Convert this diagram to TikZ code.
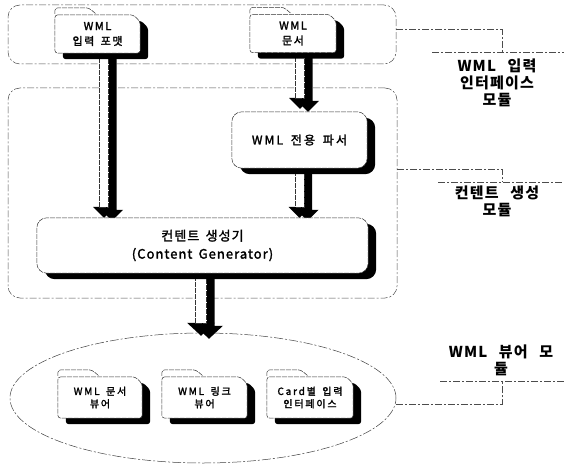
\documentclass[tikz,border=0pt]{standalone}
\usepackage{fontspec}
\setmainfont{Noto Sans CJK KR}[BoldFeatures={WordSpace=2.5}]
\newfontfamily\boxfont{Noto Sans CJK KR}[WordSpace=1.6, FakeBold=2]
\usetikzlibrary{calc,shapes.geometric}
\pgfdeclarelayer{regions}
\pgfdeclarelayer{arrows}
\pgfdeclarelayer{boxes}
\pgfsetlayers{regions,arrows,boxes,main}
\tikzset{
  region/.style={draw=black!70, line width=0.5pt, dash pattern=on 7pt off 2pt on 2pt off 2pt, rounded corners=12pt, inner sep=0pt},
  conn/.style={draw=black!70, line width=0.5pt, dash pattern=on 7pt off 2pt on 2pt off 2pt},
  boxline/.style={draw=black!80, line width=0.5pt, dash pattern=on 5pt off 1pt},
  holder/.style={inner sep=0pt, align=center, font=\boxfont\fontsize{11}{15}\selectfont\addfontfeatures{LetterSpace=14}},
  smallholder/.style={inner sep=0pt, align=center, font=\boxfont\fontsize{10}{12.5}\selectfont\addfontfeatures{LetterSpace=18}},
  modlabel/.style={inner sep=0pt, align=center, font=\bfseries\fontsize{15}{17}\selectfont\addfontfeatures{LetterSpace=8}},
}
% folder-shaped box with black shadow, drawn behind the named node
\newcommand\folderbox[1]{%
  \begin{pgfonlayer}{boxes}
  \fill[black, rounded corners=3pt] ($(#1.north west)+(8,6)$) -- ($(#1.north east)+(1,6)$) -- ($(#1.north east)+(8,13)$) -- ($(#1.south east)+(8,6)$) -- ($(#1.south west)+(8,6)$) -- cycle;
  \filldraw[fill=white, boxline, rounded corners=3pt] (#1.north west) -- ($(#1.north east)+(-7,0)$) -- ($(#1.north east)+(0,7)$) -- (#1.south east) -- (#1.south west) -- cycle;
  \draw[boxline, rounded corners=3pt] ($(#1.north west)+(0,-1)$) -- ($(#1.north west)+(0,-7)$) -- ($(#1.north west)+(34,-7)$) -- ($(#1.north west)+(41,-1)$);
  \end{pgfonlayer}}
% rounded box with black shadow
\newcommand\roundbox[1]{%
  \begin{pgfonlayer}{boxes}
  \fill[black, rounded corners=10pt] ($(#1.north west)+(8,6)$) rectangle ($(#1.south east)+(8,6)$);
  \filldraw[fill=white, boxline, rounded corners=10pt] (#1.north west) rectangle (#1.south east);
  \end{pgfonlayer}}
% block arrow: white shaft with black shadow, black head
% #1 start, #2 tip, #3 body half width, #4 head half width, #5 head length
\newcommand\blockarrow[5]{%
  \begin{pgfonlayer}{arrows}
  \fill[black] ($(#1)+({#3+8},3)$) -- ($(#2)+({#3+8},{3-#5})$) -- ($(#2)+({#4+8},{3-#5})$) -- ($(#2)+(8,3)$) -- ($(#2)+({8-#4},{3-#5})$) -- ($(#2)+({8-#3},{3-#5})$) -- ($(#1)+({8-#3},3)$) -- cycle;
  \fill[black] ($(#2)+({#4},{-#5})$) -- (#2) -- ($(#2)+({-#4},{-#5})$) -- cycle;
  \filldraw[fill=white, boxline] ($(#1)+({#3},0)$) -- ($(#2)+({#3},{-#5})$) -- ($(#2)+({-#3},{-#5})$) -- ($(#1)+({-#3},0)$) -- cycle;
  \end{pgfonlayer}}
\begin{document}
\begin{tikzpicture}[x=1pt,y=-1pt]
\useasboundingbox (0,0) rectangle (564,468);
% module regions
\begin{pgfonlayer}{regions}
\node[region, minimum width=388pt, minimum height=59pt] (r1) at (202,34.5) {};
\node[region, minimum width=389pt, minimum height=210pt] (r2) at (202.5,193) {};
\node[draw=black!75, line width=0.5pt, dash pattern=on 9pt off 2pt on 2pt off 2pt, ellipse, inner sep=0pt, minimum width=386pt, minimum height=130pt] (vm) at (203,398) {};
\end{pgfonlayer}
% boxes
\node[holder, minimum width=85pt, minimum height=38pt] (b1) at (97.5,34) {WML\\입력 포맷};
\node[holder, minimum width=86pt, minimum height=38pt] (b2) at (293,33.5) {WML\\문서};
\node[holder, minimum width=135pt, minimum height=56pt, font=\boxfont\fontsize{12}{15}\selectfont\addfontfeatures{LetterSpace=18}] (p) at (299.5,140) {WML 전용 파서};
\node[holder, minimum width=331pt, minimum height=55pt, font=\boxfont\fontsize{13}{18}\selectfont\addfontfeatures{LetterSpace=8}] (cg) at (202.5,245.5) {컨텐트 생성기\\(Content Generator)};
\node[smallholder, minimum width=84pt, minimum height=41pt] (v1) at (100,397.5) {WML 문서\\뷰어};
\node[smallholder, minimum width=85pt, minimum height=41pt] (v2) at (204.5,397.5) {WML 링크\\뷰어};
\node[smallholder, minimum width=86pt, minimum height=41pt] (v3) at (310,397.5) {Card별 입력\\인터페이스};
\folderbox{b1}
\folderbox{b2}
\roundbox{p}
\roundbox{cg}
\folderbox{v1}
\folderbox{v2}
\folderbox{v3}
% arrows
\coordinate (a1s) at ($(b1.south)+(6.5,0)$);
\coordinate (a1t) at (a1s |- cg.north);
\blockarrow{a1s}{a1t}{4.5}{11}{11}
\coordinate (a2s) at ($(b2.south)+(7,0)$);
\coordinate (a2t) at ($(a2s |- p.north)+(0,-3)$);
\blockarrow{a2s}{a2t}{4.5}{11}{11}
\coordinate (a3s) at (p.south);
\coordinate (a3t) at (a3s |- cg.north);
\blockarrow{a3s}{a3t}{4.5}{11}{11}
\coordinate (a4s) at ($(cg.south)+(-1.5,0)$);
\coordinate (a4t) at ($(a4s |- vm.north)+(0,3)$);
\blockarrow{a4s}{a4t}{5.5}{14}{13}
% module labels
\node[modlabel] (l1) at (497,83) {WML 입력\\인터페이스\\모듈};
\node[modlabel] (l2) at (497,201) {컨텐트 생성\\모듈};
\node[modlabel] (l3) at (501,360) {WML 뷰어 모\\듈};
\coordinate (k1) at (502,52);
\coordinate (k2) at (502,182);
\coordinate (k3) at (502,381);
\draw[conn] (432,52) coordinate (u1a) -- (564,52) coordinate (u1b);
\draw[conn] (438,182) coordinate (u2a) -- (564,182) coordinate (u2b);
\draw[conn] (440,381) coordinate (u3a) -- (564,381) coordinate (u3b);
\draw[conn] ($(r1.north east)+(0,25)$) -| (k1);
\draw[conn] ($(r2.north east)+(0,81)$) -| (k2);
\draw[conn] ($(vm.east)+(-0.5,6)$) -| (k3);
\end{tikzpicture}
\end{document}
